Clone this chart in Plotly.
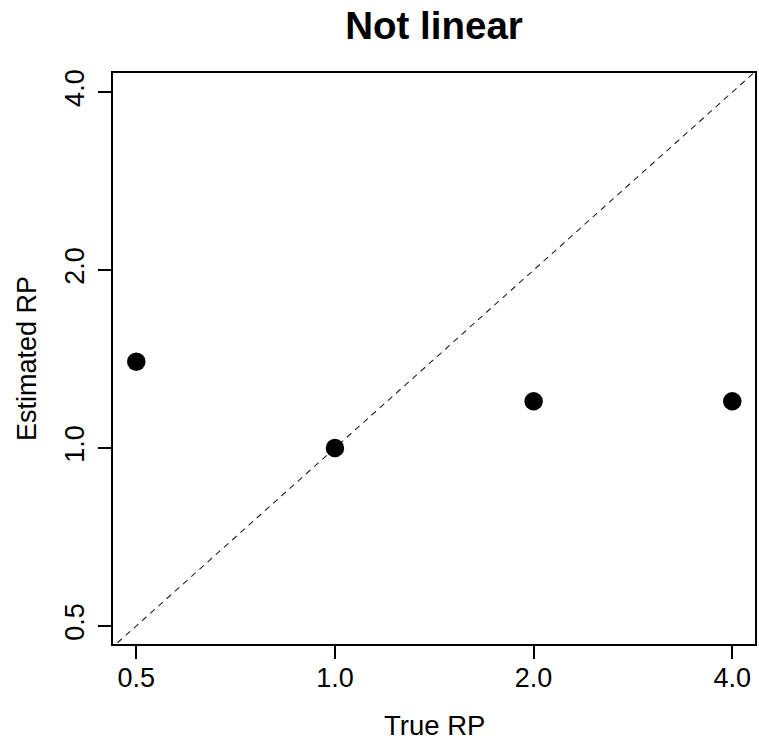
import math
import plotly.graph_objects as go

# Data
true_rp = [0.5, 1.0, 2.0, 4.0]
estimated_rp = [1.4, 1.0, 1.2, 1.2]
identity_line = [0.1, 10.0]
tick_vals = [0.5, 1.0, 2.0, 4.0]
tick_text = ["0.5", "1.0", "2.0", "4.0"]
x_limits = [0.461, 4.33]
y_limits = [0.466, 4.31]

FONT = "Liberation Sans, Arial, sans-serif"

fig = go.Figure()
fig.add_trace(go.Scatter(
    x=identity_line, y=identity_line, mode="lines",
    line=dict(color="#222222", width=1.1, dash="6px,5px"),
    hoverinfo="skip", showlegend=False,
))
fig.add_trace(go.Scatter(
    x=true_rp, y=estimated_rp, mode="markers",
    marker=dict(color="black", size=18.5, symbol="circle"),
    showlegend=False,
))

axis_common = dict(
    type="log", showgrid=False, zeroline=False, automargin=False,
    showline=True, linecolor="black", linewidth=1.5, mirror=True,
    ticks="outside", ticklen=13, tickwidth=1.5, tickcolor="black",
    tickvals=tick_vals, ticktext=tick_text,
    tickfont=dict(family=FONT, size=27, color="black"),
)

fig.update_layout(
    width=759, height=740,
    margin=dict(l=113, r=4, t=73, b=96),
    paper_bgcolor="white", plot_bgcolor="white",
    title=dict(text="<b>Not linear</b>", x=(113 + 755) / 2 / 759, xanchor="center",
               y=1 - 26 / 740, yanchor="middle",
               font=dict(family=FONT, size=38.5, color="black")),
    xaxis=dict(axis_common, range=[math.log10(x_limits[0]), math.log10(x_limits[1])],
               ticklabelstandoff=-4),
    yaxis=dict(axis_common, range=[math.log10(y_limits[0]), math.log10(y_limits[1])],
               tickangle=-90, ticklabelstandoff=3,
               title=dict(text="Estimated RP", font=dict(family=FONT, size=27, color="black"), standoff=16)),
    annotations=[dict(text="True RP", xref="paper", yref="paper", x=0.5, y=0,
                      xanchor="center", yanchor="middle", yshift=-81, showarrow=False,
                      font=dict(family=FONT, size=27.5, color="black"))],
)

fig.write_html("out.html", config={"displayModeBar": False},
               post_script="document.body.style.margin='0px';document.body.style.overflow='hidden';")
